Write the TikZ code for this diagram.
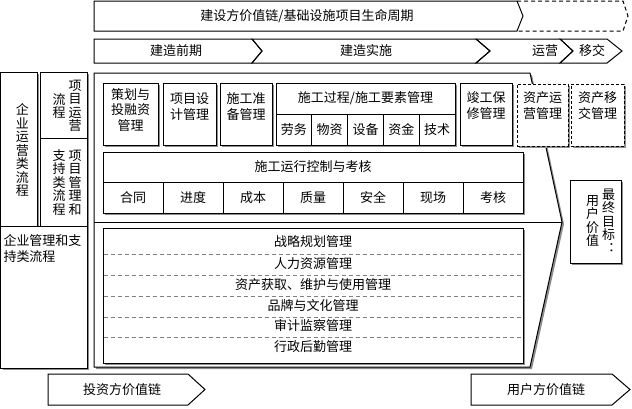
\documentclass[tikz,border=0pt]{standalone}
\usepackage{fontspec}
\setmainfont{Noto Sans CJK SC}
\usetikzlibrary{shadows}
\newcommand\vcol[1]{\parbox[c]{13pt}{\lineskiplimit=-10pt\baselineskip=13.5pt\centering #1}}
\begin{document}
\begin{tikzpicture}[x=1pt, y=-1pt, line width=1pt,
    every node/.style={font=\fontsize{13}{15.5}\selectfont, inner sep=0pt},
    shade/.style={drop shadow={shadow xshift=2pt, shadow yshift=-2pt, fill=black!45, opacity=1}},
    box/.style={draw, fill=white, shade},
    dbox/.style={box, dash pattern=on 3pt off 2pt},
    cell/.style={draw, fill=white},
    vtext/.style={font=\fontsize{13}{13.5}\selectfont},
    sep/.style={draw=black!50, dash pattern=on 4pt off 3pt}]
  \useasboundingbox (0,0) rectangle (632,408);
  % life cycle
  \draw[dash pattern=on 4pt off 3pt] (517,1) -- (623,1) -- (628,16) -- (623,31) -- (517,31);
  \draw[fill=white] (94,1) -- (517,1) -- (523,16) -- (517,31) -- (94,31) -- cycle;
  \node (smzq) at (307,16) {建设方价值链/基础设施项目生命周期};
  % phases
  \draw (94,39) -- (252,39) -- (262,51) -- (252,63) -- (94,63) -- cycle;
  \draw (252,39) -- (476,39) -- (490,51) -- (476,63) -- (252,63) -- (262,51) -- cycle;
  \draw (476,39) -- (560,39) -- (573,51) -- (560,63) -- (476,63) -- (490,51) -- cycle;
  \draw (560,39) -- (607,39) -- (622,51) -- (607,63) -- (560,63) -- (573,51) -- cycle;
  \node (jzqq) at (176,51) {建造前期};
  \node (jzss) at (366,51) {建造实施};
  \node (yy) at (545,51) {运营};
  \node (yj) at (592,51) {移交};
  % left column
  \node[box, minimum width=36.5pt, minimum height=154pt] (qyyy) at (18.75,149) {};
  \node[vtext] (qyyy-t) at (22.5,150) {\vcol{企\\业\\运\\营\\类\\流\\程}};
  \node[box, minimum width=47pt, minimum height=66pt] (xmyy) at (63.5,105) {};
  \node[vtext] (xmyy-t) at (67,106) {\vcol{流\\程}\hspace{3pt}\vcol{项\\目\\运\\营}};
  \node[box, minimum width=47pt, minimum height=88pt] (xmgl) at (63.5,182) {};
  \node[vtext] (xmgl-t) at (67,182.5) {\vcol{支\\持\\类\\流\\程}\hspace{3pt}\vcol{项\\目\\管\\理\\和}};
  \node[box, minimum width=86.5pt, minimum height=142pt] (qygl) at (43.75,297) {};
  \node[anchor=north west, align=left] (qygl-t) at (3,234) {企业管理和支\\持类流程};
  % main frame
  \draw[fill=white, shade] (94,73) -- (530,73) -- (562,222) coordinate (tip) -- (530,367) -- (94,367) -- cycle;
  \coordinate (mainw) at (94,222);
  \draw (mainw) -- (tip);
  % construction boxes
  \node[box, minimum width=55pt, minimum height=62pt] (chrz) at (130.5,114) {};
  \node[align=center] (chrz-t) at (130.5,110) {策划与\\投融资\\管理};
  \node[box, minimum width=53pt, minimum height=62pt] (xmsj) at (189.5,114) {};
  \node[align=center] (xmsj-t) at (189.5,106.5) {项目设\\计管理};
  \node[box, minimum width=52pt, minimum height=62pt] (sgzb) at (246,114) {};
  \node[align=center] (sgzb-t) at (246,106.5) {施工准\\备管理};
  \node[box, minimum width=179pt, minimum height=62pt] (sggc) at (365.5,114) {};
  \node[cell, minimum width=179pt, minimum height=31pt] (sggc-h) at (365.5,98.5) {施工过程/施工要素管理};
  \foreach \t [count=\i] in {劳务,物资,设备,资金,技术}
    \node[cell, minimum width=35.8pt, minimum height=31pt] (ys\i) at ({276+35.8*(\i-0.5)},129.5) {\t};
  \node[box, minimum width=52pt, minimum height=62pt] (jgbx) at (486,114) {};
  \node[align=center] (jgbx-t) at (486,105.5) {竣工保\\修管理};
  \node[dbox, minimum width=51pt, minimum height=62pt] (zcyy) at (542.5,115) {};
  \node[align=center] (zcyy-t) at (542.5,105.5) {资产运\\营管理};
  \node[dbox, minimum width=53pt, minimum height=62pt] (zcyj) at (597.5,115) {};
  \node[align=center] (zcyj-t) at (597.5,105.5) {资产移\\交管理};
  % control
  \node[box, minimum width=420pt, minimum height=61pt] (kz) at (313,182.5) {};
  \node[cell, minimum width=420pt, minimum height=30pt] (kz-h) at (313,167) {施工运行控制与考核};
  \foreach \t [count=\i] in {合同,进度,成本,质量,安全,现场,考核}
    \node[cell, minimum width=60pt, minimum height=31pt] (kh\i) at ({103+60*(\i-0.5)},197.5) {\t};
  % management
  \node[box, minimum width=420pt, minimum height=135pt] (gl) at (313,295.5) {};
  \foreach \y in {254,275,296,317,337}
    \draw[sep] (103.5,\y) -- (522.5,\y);
  \foreach \t/\y [count=\i] in {战略规划管理/242,人力资源管理/264,资产获取、维护与使用管理/285,品牌与文化管理/305.5,审计监察管理/326,行政后勤管理/347}
    \node (gl\i) at (313,\y) {\t};
  % goal
  \node[box, minimum width=51pt, minimum height=83pt] (mb) at (595.5,221.5) {};
  \node[vtext] (mb-t) at (600.5,221) {\vcol{用\\户\\价\\值}\hspace{3pt}\vcol{最\\终\\目\\标\\︓}};
  % value chains
  \draw (48,374) -- (188,374) -- (205,389.5) -- (188,405) -- (48,405) -- cycle;
  \node (tzf) at (122,389.5) {投资方价值链};
  \draw (471,374) -- (612,374) -- (630,389.5) -- (612,405) -- (471,405) -- cycle;
  \node (yhf) at (546,389.5) {用户方价值链};
\end{tikzpicture}
\end{document}
